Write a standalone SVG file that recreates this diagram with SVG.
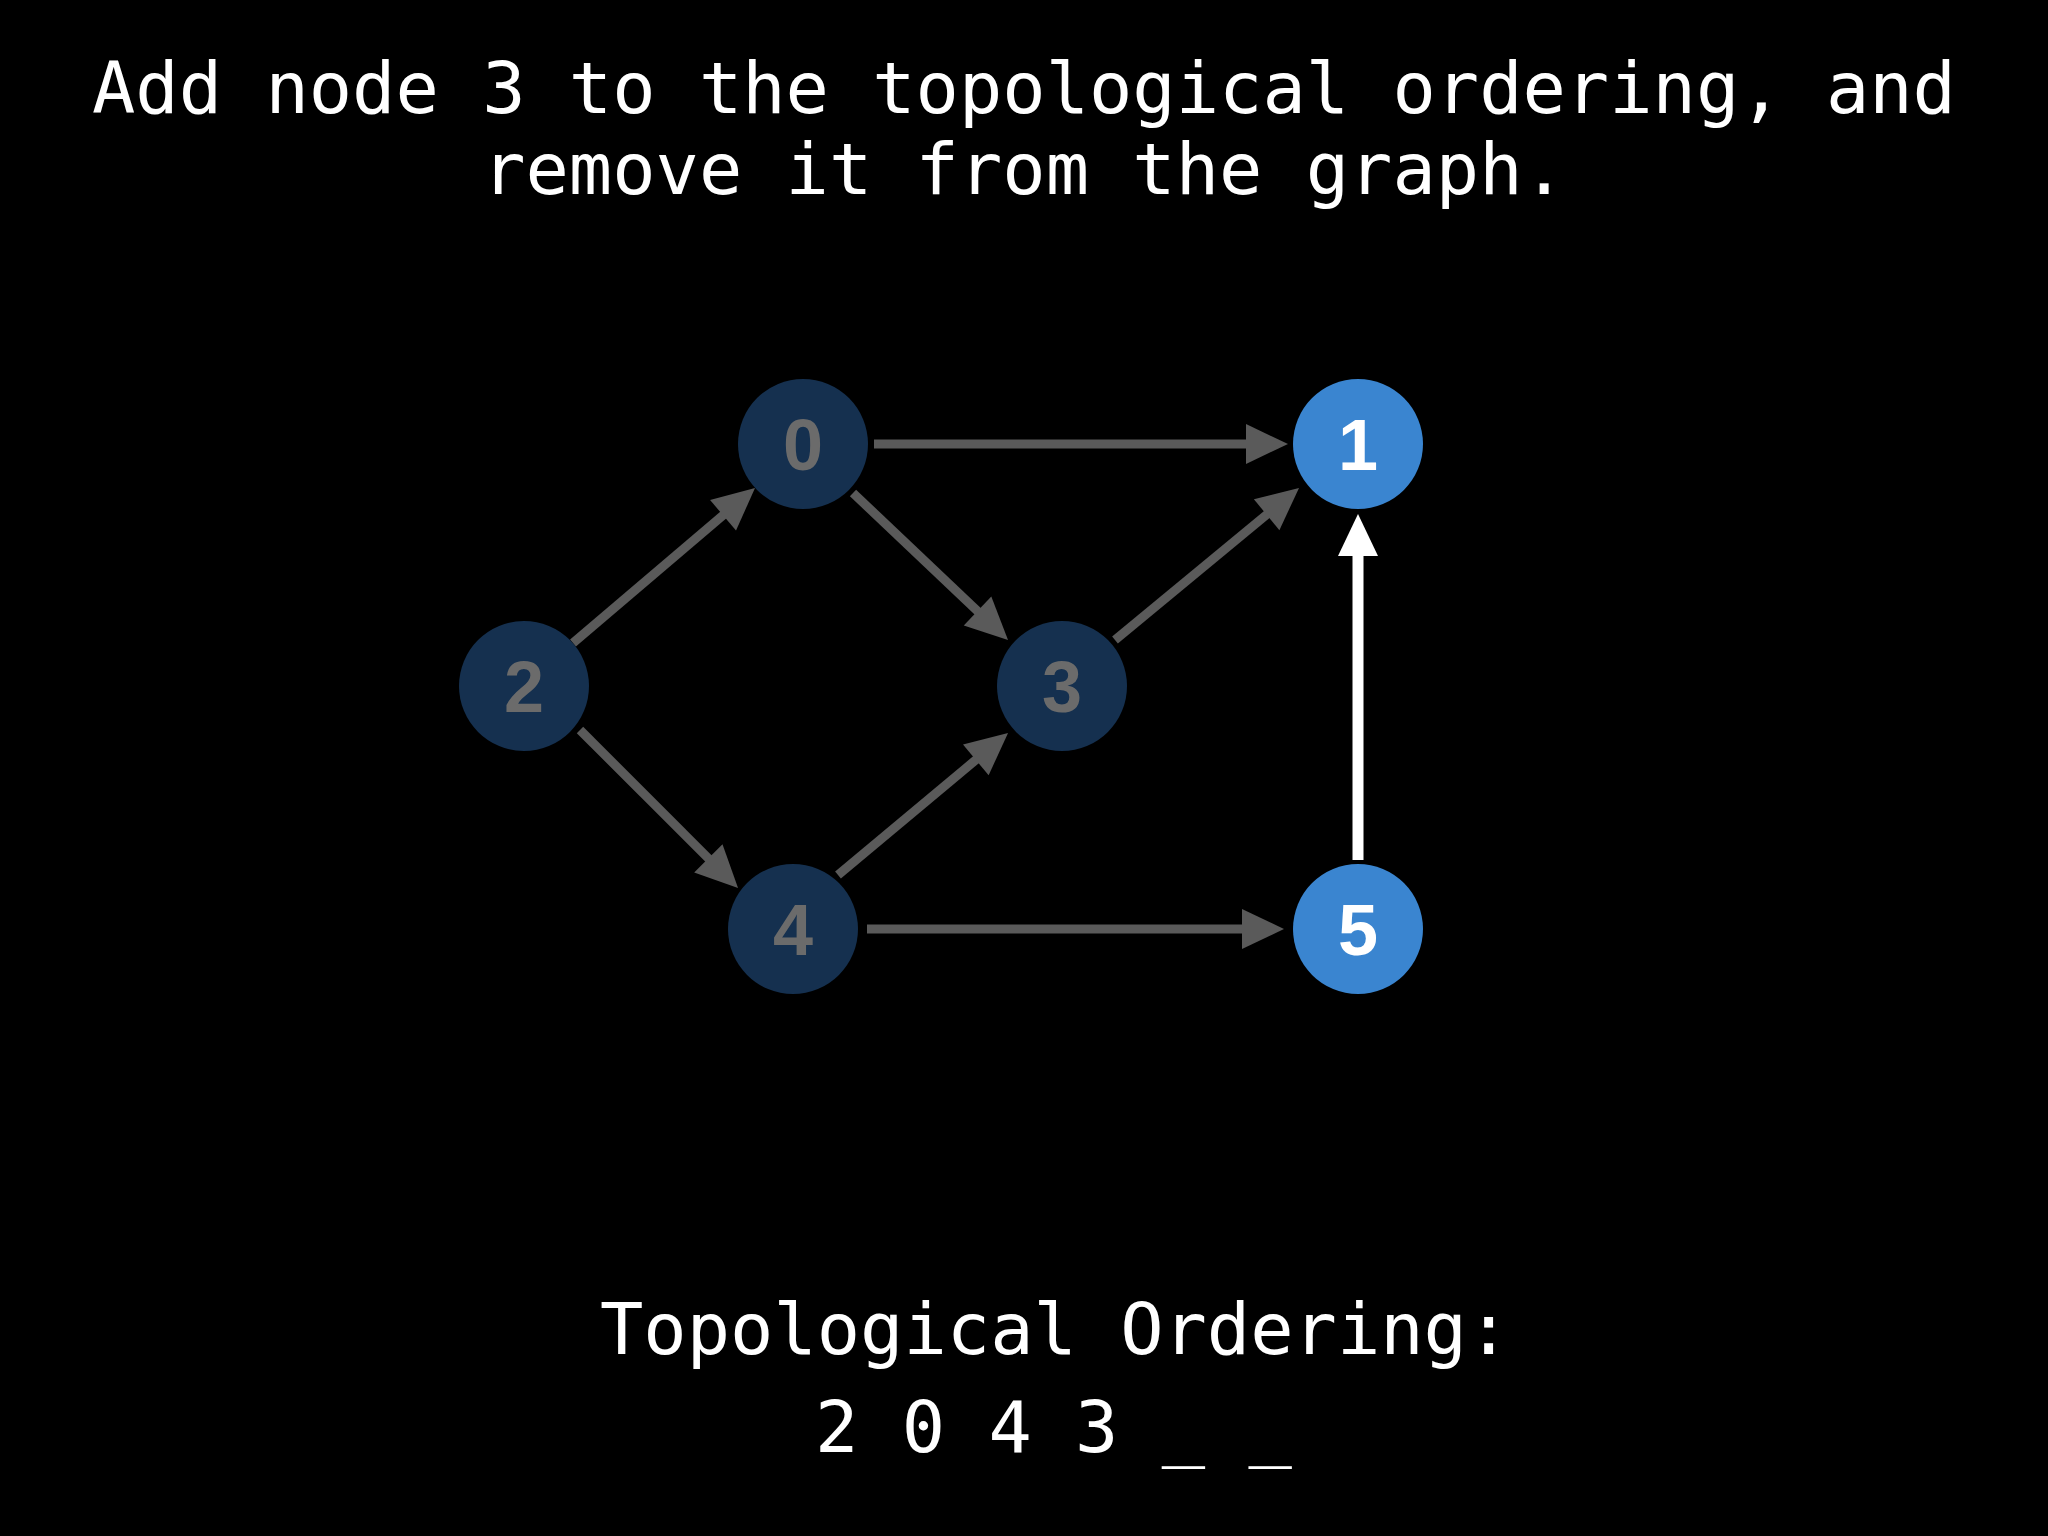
<svg xmlns="http://www.w3.org/2000/svg" width="2048" height="1536" viewBox="0 0 2048 1536">
<defs>
<style>
.title{font-family:"DejaVu Sans Mono","Liberation Mono",monospace;font-size:72px;fill:#ffffff}
.dim circle{fill:#15304f}
.dim text{fill:#6b6b6b}
.act circle{fill:#3a85d0}
.act text{fill:#ffffff}
.lbl{font-family:"Liberation Sans",Arial,sans-serif;font-weight:bold;font-size:72px;text-anchor:middle}
.edge{stroke:#5a5a5a;stroke-width:9;fill:none;marker-end:url(#ag)}
.edgew{stroke:#ffffff;stroke-width:11;fill:none;marker-end:url(#aw)}
</style>
<marker id="ag" markerUnits="userSpaceOnUse" markerWidth="42" markerHeight="40" refX="22" refY="20" orient="auto" overflow="visible"><path d="M0,0 L42,20 L0,40 z" fill="#5a5a5a"/></marker>
<marker id="aw" markerUnits="userSpaceOnUse" markerWidth="42" markerHeight="40" refX="22" refY="20" orient="auto" overflow="visible"><path d="M0,0 L42,20 L0,40 z" fill="#ffffff"/></marker>
</defs>
<rect width="2048" height="1536" fill="#000000"/>
<text class="title" x="1024" y="113" text-anchor="middle">Add node 3 to the topological ordering, and</text>
<text class="title" x="1024" y="194" text-anchor="middle">remove it from the graph.</text>
<g id="connectors">
<line class="edge" x1="874" y1="444" x2="1268" y2="444"/>
<line class="edge" x1="573" y1="643" x2="739.8" y2="501"/>
<line class="edge" x1="853" y1="493" x2="993.5" y2="626.2"/>
<line class="edge" x1="1115" y1="640" x2="1283.6" y2="500.7"/>
<line class="edge" x1="580" y1="730" x2="723.9" y2="873.9"/>
<line class="edge" x1="838" y1="875" x2="992.7" y2="745.8"/>
<line class="edge" x1="867" y1="929" x2="1264" y2="929"/>
<line class="edgew" x1="1358" y1="860" x2="1358" y2="534"/>
</g>
<g id="node0" class="dim"><circle cx="803" cy="444" r="65"/><text class="lbl" x="803" y="470">0</text></g>
<g id="node1" class="act"><circle cx="1358" cy="444" r="65"/><text class="lbl" x="1358" y="470">1</text></g>
<g id="node2" class="dim"><circle cx="524" cy="686" r="65"/><text class="lbl" x="524" y="712">2</text></g>
<g id="node3" class="dim"><circle cx="1062" cy="686" r="65"/><text class="lbl" x="1062" y="712">3</text></g>
<g id="node4" class="dim"><circle cx="793" cy="929" r="65"/><text class="lbl" x="793" y="955">4</text></g>
<g id="node5" class="act"><circle cx="1358" cy="929" r="65"/><text class="lbl" x="1358" y="955">5</text></g>
<text class="title" x="600" y="1354">Topological Ordering:</text>
<text class="title" x="815" y="1452">2 0 4 3 _ _</text>
</svg>
